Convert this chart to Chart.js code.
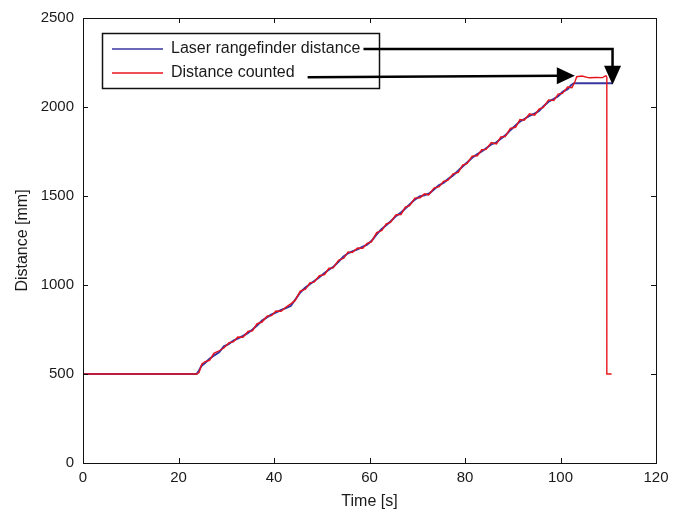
<!DOCTYPE html>
<html>
<head>
<meta charset="utf-8">
<script src="https://cdn.jsdelivr.net/npm/chart.js@4/dist/chart.umd.min.js"></script>
<style>
html,body{margin:0;padding:0;background:#fff;}
#wrap{width:682px;height:513px;}
</style>
</head>
<body>
<div id="wrap"><canvas id="c" width="682" height="513"></canvas></div>
<script>
// ---- data ----
const xTicks = [0, 20, 40, 60, 80, 100, 120];
const yTicks = [0, 500, 1000, 1500, 2000, 2500];
const seriesLabels = ['Laser rangefinder distance', 'Distance counted'];

const blueTime = [0,23.8,24.3,24.8,25.5,26.5,27.5,28.5,29.5,30.5,31.5,32.5,33.5,34.5,35.5,36.5,37.5,38.5,39.5,40.5,41.5,42.5,43.5,44.5,45.5,46.5,47.5,48.5,49.5,50.5,51.5,52.5,53.5,54.5,55.5,56.5,57.5,58.5,59.5,60.5,61.5,62.5,63.5,64.5,65.5,66.5,67.5,68.5,69.5,70.5,71.5,72.5,73.5,74.5,75.5,76.5,77.5,78.5,79.5,80.5,81.5,82.5,83.5,84.5,85.5,86.5,87.5,88.5,89.5,90.5,91.5,92.5,93.5,94.5,95.5,96.5,97.5,98.5,99.5,100.5,101.5,102.2,102.8,110.8];
const blueDist = [500,500,520,545,560,585,605,622,655,668,688,700,714,730,750,774,800,818,835,846,860,870,882,920,958,984,1004,1024,1044,1066,1086,1104,1130,1158,1178,1190,1200,1214,1226,1250,1285,1314,1336,1360,1386,1405,1430,1455,1480,1498,1504,1514,1536,1560,1574,1596,1616,1640,1666,1690,1715,1734,1750,1770,1790,1800,1822,1842,1870,1894,1918,1934,1950,1962,1978,2006,2030,2044,2060,2086,2100,2122,2133,2133];

const redTime = [0,23.8,24.3,24.9,25.6,26.5,27.4,28.6,29.5,30.6,31.5,32.4,33.5,34.6,35.5,36.4,37.5,38.6,39.5,40.4,41.5,42.6,43.5,44.4,45.5,46.6,47.5,48.4,49.5,50.6,51.5,52.4,53.5,54.6,55.5,56.4,57.5,58.6,59.5,60.4,61.5,62.6,63.5,64.4,65.5,66.6,67.5,68.4,69.5,70.6,71.5,72.4,73.5,74.6,75.5,76.4,77.5,78.6,79.5,80.4,81.5,82.6,83.5,84.4,85.5,86.6,87.5,88.4,89.5,90.6,91.5,92.4,93.5,94.6,95.5,96.4,97.5,98.6,99.5,100.4,101.5,102.4,103.0,103.4,104.5,106.0,107.5,108.8,109.5,109.7,109.7,110.7];
const redDist = [500,500,508,556,570,576,616,632,646,676,680,708,706,740,742,782,792,826,828,854,852,878,894,912,966,976,1012,1016,1052,1058,1094,1096,1138,1150,1186,1182,1208,1206,1234,1242,1294,1306,1344,1352,1394,1396,1438,1446,1488,1490,1512,1506,1544,1552,1582,1588,1624,1632,1674,1682,1724,1726,1760,1762,1800,1792,1832,1834,1880,1886,1930,1926,1962,1954,1988,1998,2040,2036,2072,2076,2112,2108,2140,2170,2174,2164,2166,2165,2176,2166,500,500];

const blueColor = '#3a36a0';
const redColor = '#e8141c';

function pts(t, v){ return t.map((x,i)=>({x:x, y:v[i]})); }

const FONT = 'Liberation Sans, Arial, sans-serif';

const framePlugin = {
  id: 'frame',
  afterDraw(chart){
    const ctx = chart.ctx;
    const a = chart.chartArea;
    const xs = chart.scales.x, ys = chart.scales.y;
    ctx.save();
    ctx.strokeStyle = '#111';
    ctx.lineWidth = 1;
    ctx.strokeRect(Math.round(a.left)+0.5, Math.round(a.top)+0.5, Math.round(a.right-a.left), Math.round(a.bottom-a.top));
    const tl = 5;
    ctx.beginPath();
    xTicks.forEach(v=>{
      const px = Math.round(xs.getPixelForValue(v))+0.5;
      ctx.moveTo(px, a.bottom); ctx.lineTo(px, a.bottom-tl);
      ctx.moveTo(px, a.top); ctx.lineTo(px, a.top+tl);
    });
    yTicks.forEach(v=>{
      const py = Math.round(ys.getPixelForValue(v))+0.5;
      ctx.moveTo(a.left, py); ctx.lineTo(a.left+tl, py);
      ctx.moveTo(a.right, py); ctx.lineTo(a.right-tl, py);
    });
    ctx.stroke();

    // legend box
    const lx = a.left + 19, ly = a.top + 15, lw = 277, lh = 55;
    ctx.fillStyle = '#fff';
    ctx.fillRect(lx, ly, lw, lh);
    ctx.strokeStyle = '#111';
    ctx.lineWidth = 1.5;
    ctx.strokeRect(lx+0.5, ly+0.5, lw, lh);
    ctx.font = '16px ' + FONT;
    ctx.textBaseline = 'middle';
    ctx.fillStyle = '#1a1a1a';
    const rows = [{c: blueColor, t: seriesLabels[0], y: ly+16},{c: redColor, t: seriesLabels[1], y: ly+40}];
    const ends = [];
    rows.forEach(r=>{
      ctx.strokeStyle = r.c; ctx.lineWidth = 1.5;
      ctx.beginPath(); ctx.moveTo(lx+10, r.y); ctx.lineTo(lx+61, r.y); ctx.stroke();
      ctx.fillText(r.t, lx+69, r.y);
      ends.push(lx+69+ctx.measureText(r.t).width);
    });

    // arrows
    ctx.strokeStyle = '#000'; ctx.fillStyle = '#000'; ctx.lineWidth = 2.5;
    // arrow 1: to end of blue plateau
    const ax = xs.getPixelForValue(110.9), aTip = ys.getPixelForValue(2125);
    const y1 = rows[0].y;
    ctx.beginPath(); ctx.moveTo(ends[0]+3, y1); ctx.lineTo(ax, y1); ctx.lineTo(ax, aTip-16); ctx.stroke();
    ctx.beginPath(); ctx.moveTo(ax-8.5, aTip-19); ctx.lineTo(ax+8.5, aTip-19); ctx.lineTo(ax, aTip); ctx.closePath(); ctx.fill();
    // arrow 2: to start of red plateau
    const bx = xs.getPixelForValue(103.0), by = ys.getPixelForValue(2175);
    ctx.beginPath(); ctx.moveTo(ends[1]+13, by+1.5); ctx.lineTo(bx-16, by); ctx.stroke();
    ctx.beginPath(); ctx.moveTo(bx-18, by-8.5); ctx.lineTo(bx-18, by+8.5); ctx.lineTo(bx, by); ctx.closePath(); ctx.fill();
    ctx.restore();
  }
};

new Chart(document.getElementById('c'), {
  type: 'line',
  data: {
    datasets: [
      {label: seriesLabels[1], data: pts(redTime, redDist), borderColor: redColor, borderWidth: 1.4, pointRadius: 0, tension: 0, fill: false},
      {label: seriesLabels[0], data: pts(blueTime, blueDist), borderColor: blueColor, borderWidth: 2, pointRadius: 0, tension: 0, fill: false}
    ]
  },
  options: {
    responsive: false,
    animation: false,
    devicePixelRatio: 1,
    layout: {padding: {left: 0, right: 26, top: 15, bottom: 0}},
    plugins: {legend: {display: false}, tooltip: {enabled: false}},
    scales: {
      x: {
        type: 'linear', min: 0, max: 120,
        afterBuildTicks(s){ s.ticks = xTicks.map(v=>({value:v})); },
        afterFit(s){ s.height = 50; },
        grid: {display: false, drawTicks: false},
        border: {display: false},
        ticks: {color: '#1a1a1a', font: {family: FONT, size: 15}, padding: 6, maxRotation: 0, autoSkip: false, callback: v => String(v)},
        title: {display: true, text: 'Time [s]', color: '#1a1a1a', font: {family: FONT, size: 16}, padding: {top: 0, bottom: 2}}
      },
      y: {
        type: 'linear', min: 0, max: 2500,
        afterBuildTicks(s){ s.ticks = yTicks.map(v=>({value:v})); },
        afterFit(s){ s.width = 83; },
        grid: {display: false, drawTicks: false},
        border: {display: false},
        ticks: {color: '#1a1a1a', font: {family: FONT, size: 15}, padding: 9, autoSkip: false, callback: v => String(v)},
        title: {display: true, text: 'Distance [mm]', color: '#1a1a1a', font: {family: FONT, size: 16}, padding: {top: 13, bottom: 0}}
      }
    }
  },
  plugins: [framePlugin]
});
</script>
</body>
</html>
